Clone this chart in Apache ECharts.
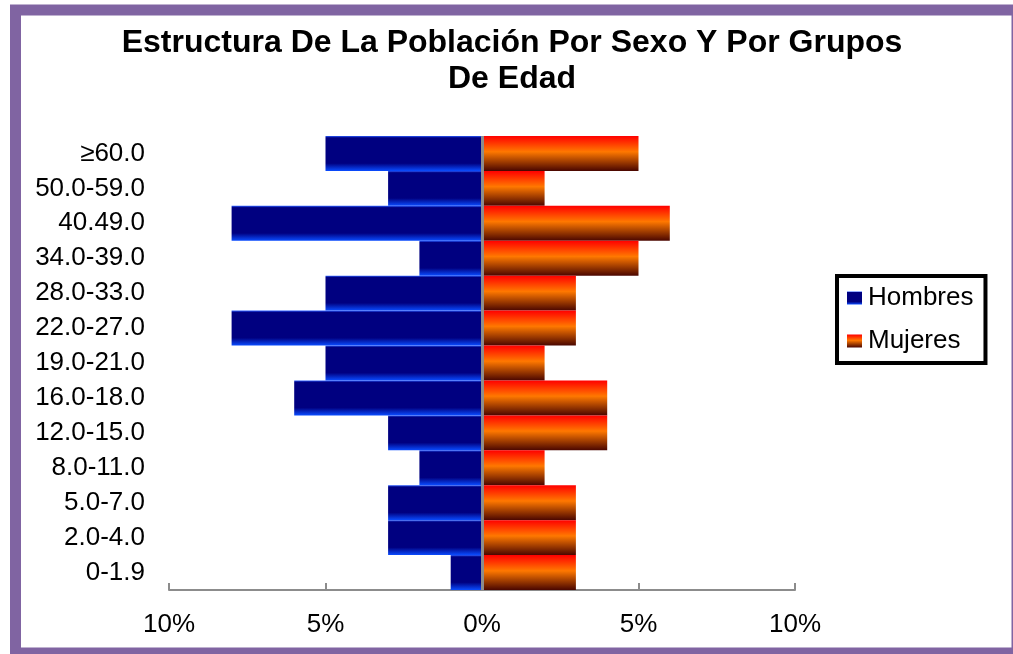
<!DOCTYPE html>
<html>
<head>
<meta charset="utf-8">
<title>Estructura de la población</title>
<script src="https://cdn.jsdelivr.net/npm/echarts@6/dist/echarts.min.js"></script>
<style>
  html, body { margin: 0; padding: 0; background: #fff; }
  #chart { width: 1013px; height: 654px; }
</style>
</head>
<body>
<div id="chart"></div>
<script>
// grupos de edad, de arriba hacia abajo
const categories = ['≥60.0', '50.0-59.0', '40.49.0', '34.0-39.0', '28.0-33.0', '22.0-27.0',
  '19.0-21.0', '16.0-18.0', '12.0-15.0', '8.0-11.0', '5.0-7.0', '2.0-4.0', '0-1.9']
// porcentajes
const hombres = [5, 3, 8, 2, 5, 8, 5, 6, 3, 2, 3, 3, 1]
const mujeres = [5, 2, 6, 5, 3, 3, 2, 4, 4, 2, 3, 3, 3]
const xTicks = [-10, -5, 0, 5, 10]

const font = '"Liberation Sans", Arial, sans-serif'

const chart = echarts.init(document.getElementById('chart'))
chart.setOption({
  animation: false,
  textStyle: { fontFamily: font },
  graphic: [{
    type: 'rect',
    silent: true,
    shape: { x: 15.5, y: 10, width: 1001.5, height: 643 },
    style: { fill: 'none', stroke: '#8064a2', lineWidth: 11 }
  }],
  title: {
    text: 'Estructura De La Población Por Sexo Y Por Grupos\nDe Edad',
    left: 512,
    top: 25,
    padding: 0,
    textAlign: 'center',
    textStyle: {
      fontFamily: font,
      fontSize: 32,
      fontWeight: 'bold',
      color: '#000',
      lineHeight: 36
    }
  },
  legend: {
    orient: 'vertical',
    left: 837,
    top: 276,
    padding: [9, 12, 9, 10],
    itemGap: 17,
    itemWidth: 15,
    itemHeight: 13,
    icon: 'rect',
    borderColor: '#000',
    borderWidth: 4,
    textStyle: { fontFamily: font, fontSize: 26, color: '#000', padding: [0, 0, 0, 1] },
    data: ['Hombres', 'Mujeres']
  },
  grid: {
    left: 169,
    right: 218,
    top: 136,
    bottom: 64
  },
  xAxis: {
    type: 'value',
    min: xTicks[0],
    max: xTicks[xTicks.length - 1],
    interval: 5,
    axisLine: { show: true, lineStyle: { color: '#8c8c8c', width: 2 } },
    axisTick: { show: true, inside: true, length: 7, lineStyle: { color: '#8c8c8c', width: 2 } },
    splitLine: { show: false },
    axisLabel: {
      margin: 22,
      fontFamily: font,
      fontSize: 26,
      color: '#000',
      formatter: v => Math.abs(v) + '%'
    }
  },
  yAxis: {
    type: 'category',
    inverse: true,
    data: categories,
    axisLine: { show: false },
    axisTick: { show: false },
    axisLabel: {
      margin: 24,
      fontFamily: font,
      fontSize: 26,
      color: '#000',
      padding: [7, 0, 0, 0]
    }
  },
  series: [{
    name: 'Hombres',
    type: 'bar',
    barGap: '-100%',
    barCategoryGap: '0%',
    data: hombres.map(v => -v),
    itemStyle: {
      color: new echarts.graphic.LinearGradient(0, 0, 0, 1, [
        { offset: 0, color: '#2a5cff' },
        { offset: 0.05, color: '#000080' },
        { offset: 0.78, color: '#000080' },
        { offset: 1, color: '#0a4cff' }
      ])
    },
    markLine: {
      silent: true,
      symbol: 'none',
      label: { show: false },
      lineStyle: { color: '#8c8c8c', width: 3, type: 'solid' },
      data: [{ xAxis: 0 }]
    }
  }, {
    name: 'Mujeres',
    type: 'bar',
    barGap: '-100%',
    barCategoryGap: '0%',
    data: mujeres,
    itemStyle: {
      color: new echarts.graphic.LinearGradient(0, 0, 0, 1, [
        { offset: 0, color: '#ff0000' },
        { offset: 0.45, color: '#ff7800' },
        { offset: 1, color: '#4a0600' }
      ])
    }
  }]
})
</script>
</body>
</html>
